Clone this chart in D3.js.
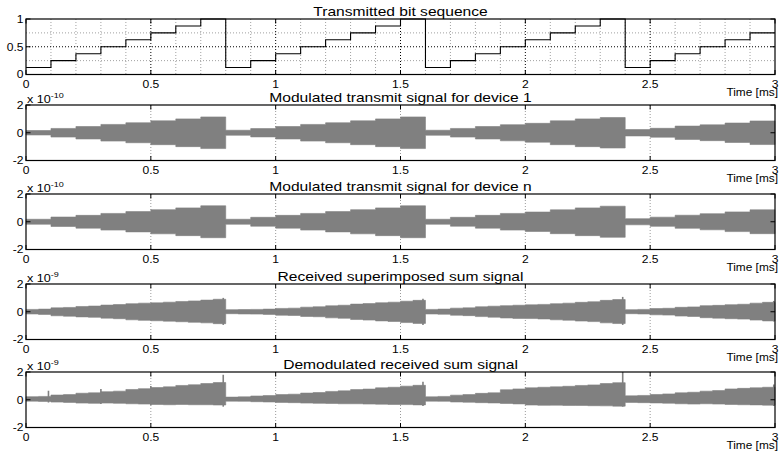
<!DOCTYPE html>
<html><head><meta charset="utf-8">
<script src="https://cdn.jsdelivr.net/npm/d3@7"></script>
<style>
body{margin:0;background:#fff}
svg{display:block}
text{font-family:"Liberation Sans",Arial,Helvetica,sans-serif;fill:#000}
</style>
</head><body>
<svg id="chart" width="782" height="452"></svg>
<script>
// ---------------- DATA ----------------
const titles = ["Transmitted bit sequence","Modulated transmit signal for device 1","Modulated transmit signal for device n","Received superimposed sum signal","Demodulated received sum signal"];
const xTicks = [0,0.5,1,1.5,2,2.5,3];
const xTickLabels = ["0","0.5","1","1.5","2","2.5","3"];
const xLabel = "Time [ms]";
const bitYTicks = [0,0.5,1];
const bitYTickLabels = ["0","0.5","1"];
const sigYTicks = [-2,0,2];
const sigYTickLabels = ["-2","0","2"];
const exponents = [null,"-10","-10","-9","-9"];

// segment start times (0.1 ms bits)
const segTimes = [0,0.1,0.2,0.3,0.4,0.5,0.6,0.7,0.8,0.9,1.0,1.1,1.2,1.3,1.4,1.5,1.6,1.7,1.8,1.9,2.0,2.1,2.2,2.3,2.4,2.5,2.6,2.7,2.8,2.9,3.0];
// transmitted bit levels per segment
const bitLevels = [0.125,0.25,0.375,0.5,0.625,0.75,0.875,1, 0.125,0.25,0.375,0.5,0.625,0.75,0.875,1, 0.125,0.25,0.375,0.5,0.625,0.75,0.875,1, 0.125,0.25,0.375,0.5,0.625,0.75];
// modulated signal envelope amplitude (x 1e-10)
const dev1Amp = [0.16,0.31,0.45,0.6,0.72,0.86,1.0,1.14, 0.18,0.3,0.45,0.6,0.72,0.86,1.0,1.14, 0.18,0.31,0.45,0.58,0.68,0.86,1.0,1.1, 0.23,0.32,0.48,0.57,0.7,0.85];
const devNAmp = [0.18,0.34,0.46,0.6,0.73,0.87,1.0,1.15, 0.18,0.32,0.46,0.6,0.73,0.87,1.0,1.15, 0.18,0.32,0.46,0.6,0.7,0.86,1.0,1.12, 0.22,0.33,0.47,0.58,0.71,0.86];

// finer time grid (0.05 ms) for the received signals
const halfTimes = [0,0.05,0.1,0.15,0.2,0.25,0.3,0.35,0.4,0.45,0.5,0.55,0.6,0.65,0.7,0.75,0.8,0.85,0.9,0.95,1.0,1.05,1.1,1.15,1.2,1.25,1.3,1.35,1.4,1.45,1.5,1.55,1.6,1.65,1.7,1.75,1.8,1.85,1.9,1.95,2.0,2.05,2.1,2.15,2.2,2.25,2.3,2.35,2.4,2.45,2.5,2.55,2.6,2.65,2.7,2.75,2.8,2.85,2.9,2.95,3.0];
// received sum signal envelope (x 1e-9): upper and lower magnitudes
const rxUpper = [0.17,0.19,0.28,0.31,0.38,0.41,0.48,0.52,0.58,0.62,0.64,0.69,0.74,0.78,0.84,0.9,
                 0.15,0.16,0.17,0.19,0.24,0.26,0.33,0.36,0.43,0.47,0.55,0.59,0.65,0.69,0.76,0.82,
                 0.17,0.19,0.26,0.28,0.36,0.4,0.44,0.47,0.5,0.53,0.58,0.62,0.68,0.72,0.82,0.88,
                 0.15,0.17,0.23,0.25,0.32,0.35,0.44,0.46,0.51,0.54,0.62,0.68];
const rxLower = [0.16,0.19,0.29,0.32,0.37,0.4,0.46,0.5,0.58,0.62,0.65,0.68,0.72,0.76,0.8,0.86,
                 0.14,0.16,0.17,0.19,0.25,0.27,0.34,0.36,0.44,0.47,0.56,0.6,0.66,0.7,0.78,0.84,
                 0.16,0.18,0.25,0.28,0.35,0.39,0.45,0.48,0.49,0.52,0.58,0.61,0.67,0.71,0.8,0.85,
                 0.14,0.16,0.22,0.24,0.31,0.34,0.43,0.46,0.5,0.53,0.6,0.66];
const rxSpikeT = [0.79,1.59,2.39,2.995];
const rxSpikeTop = [1.0,0.93,1.07,0.78];
const rxSpikeBot = [-0.95,-0.95,-0.95,-0.7];
// demodulated sum signal envelope (x 1e-9)
const dmUpper = [0.22,0.24,0.34,0.37,0.47,0.5,0.58,0.62,0.74,0.8,0.88,0.93,1.03,1.08,1.17,1.24,
                 0.19,0.21,0.27,0.3,0.37,0.4,0.48,0.52,0.6,0.64,0.73,0.77,0.86,0.9,0.98,1.04,
                 0.21,0.24,0.33,0.37,0.46,0.5,0.72,0.78,0.86,0.9,0.93,0.97,1.03,1.07,1.17,1.23,
                 0.28,0.31,0.38,0.42,0.5,0.54,0.62,0.66,0.78,0.82,0.86,0.9];
const dmLower = [0.1,0.12,0.17,0.19,0.24,0.26,0.24,0.26,0.29,0.31,0.34,0.36,0.34,0.36,0.36,0.38,
                 0.1,0.11,0.14,0.16,0.19,0.21,0.24,0.26,0.27,0.29,0.29,0.31,0.32,0.34,0.35,0.37,
                 0.1,0.11,0.16,0.18,0.21,0.23,0.27,0.3,0.38,0.4,0.39,0.41,0.41,0.43,0.44,0.46,
                 0.19,0.21,0.23,0.25,0.29,0.31,0.29,0.31,0.34,0.36,0.37,0.39];
const dmSpikeT = [0.09,0.3,0.5,0.79,1.59,2.39,2.995];
const dmSpikeTop = [0.65,0.77,1.0,1.8,1.3,2.0,1.1];
const dmSpikeBot = [-0.2,-0.3,-0.4,-0.5,-0.45,-0.5,-0.45];

// ---------------- LAYOUT ----------------
const svg = d3.select("#chart");
const L = 26, R = 775, H = 55.5;
const tops = [19,105,194,284,372];
const x = d3.scaleLinear().domain([0,3]).range([L,R]);
const GRAY = "#808080";

function label(g, px, py, str, size, anchor, sx, dy) {
  const t = g.append("text")
    .attr("transform", `translate(${px},${py}) scale(${sx},1)`)
    .attr("font-size", size)
    .attr("text-anchor", anchor)
    .text(str);
  if (dy) t.attr("dy", dy);
  return t;
}

function envelopeData(times, upper, lower) {
  const d = upper.map((u,i) => ({t: times[i], hi: u, lo: -lower[i]}));
  const last = d[d.length-1];
  d.push({t: times[upper.length], hi: last.hi, lo: last.lo});
  return d;
}

tops.forEach((top, p) => {
  const g = svg.append("g");
  const bottom = top + H;
  const isBit = p === 0;
  const y = d3.scaleLinear().domain(isBit ? [0,1] : [-2,2]).range([bottom, top]);

  // grid
  const grid = g.append("g");
  if (isBit) {
    const minorX = segTimes.filter(t => t > 0 && t < 3 && Math.abs(t*2 - Math.round(t*2)) > 1e-6);
    grid.selectAll(".mx").data(minorX).join("line")
      .attr("x1", d => x(d)).attr("x2", d => x(d)).attr("y1", top).attr("y2", bottom)
      .attr("stroke", "#a0a0a0").attr("stroke-width", 1).attr("stroke-dasharray", "1,2");
    grid.selectAll(".my").data([0.25,0.75]).join("line")
      .attr("x1", L).attr("x2", R).attr("y1", d => y(d)).attr("y2", d => y(d))
      .attr("stroke", "#a0a0a0").attr("stroke-width", 1).attr("stroke-dasharray", "1,2");
    grid.selectAll(".gx").data(xTicks.slice(1,-1)).join("line")
      .attr("x1", d => x(d)).attr("x2", d => x(d)).attr("y1", top).attr("y2", bottom)
      .attr("stroke", "#000").attr("stroke-width", 1).attr("stroke-dasharray", "1,2");
    grid.selectAll(".gy").data([0.5]).join("line")
      .attr("x1", L).attr("x2", R).attr("y1", d => y(d)).attr("y2", d => y(d))
      .attr("stroke", "#000").attr("stroke-width", 1).attr("stroke-dasharray", "1,2");
  } else {
    grid.selectAll(".gx").data(xTicks.slice(1,-1)).join("line")
      .attr("x1", d => x(d)).attr("x2", d => x(d)).attr("y1", top).attr("y2", bottom)
      .attr("stroke", "#9a9a9a").attr("stroke-width", 1).attr("stroke-dasharray", "1,2");
    grid.selectAll(".gy").data([0]).join("line")
      .attr("x1", L).attr("x2", R).attr("y1", d => y(d)).attr("y2", d => y(d))
      .attr("stroke", "#9a9a9a").attr("stroke-width", 1).attr("stroke-dasharray", "1,2");
  }

  // data
  if (isBit) {
    const d = bitLevels.map((v,i) => ({t: segTimes[i], v}));
    d.push({t: 3, v: bitLevels[bitLevels.length-1]});
    g.append("path").datum(d)
      .attr("d", d3.line().x(e => x(e.t)).y(e => y(e.v)).curve(d3.curveStepAfter))
      .attr("fill", "none").attr("stroke", "#000").attr("stroke-width", 1.1);
  } else {
    let data, sT = [], sTop = [], sBot = [];
    if (p === 1) data = envelopeData(segTimes, dev1Amp, dev1Amp);
    if (p === 2) data = envelopeData(segTimes, devNAmp, devNAmp);
    if (p === 3) { data = envelopeData(halfTimes, rxUpper, rxLower); sT = rxSpikeT; sTop = rxSpikeTop; sBot = rxSpikeBot; }
    if (p === 4) { data = envelopeData(halfTimes, dmUpper, dmLower); sT = dmSpikeT; sTop = dmSpikeTop; sBot = dmSpikeBot; }
    g.append("path").datum(data)
      .attr("d", d3.area().x(e => x(e.t)).y0(e => y(e.lo)).y1(e => y(e.hi)).curve(d3.curveStepAfter))
      .attr("fill", GRAY).attr("stroke", GRAY).attr("stroke-width", 0.6);
    g.selectAll(".spike").data(sT).join("line")
      .attr("x1", d => x(d)).attr("x2", d => x(d))
      .attr("y1", (d,i) => y(sBot[i])).attr("y2", (d,i) => y(sTop[i]))
      .attr("stroke", GRAY).attr("stroke-width", 1.6);
  }

  // ticks (inside, top & bottom, left & right)
  const tl = 4.5;
  const yT = isBit ? bitYTicks : sigYTicks;
  const yTL = isBit ? bitYTickLabels : sigYTickLabels;
  g.selectAll(".tb").data(xTicks).join("line")
    .attr("x1", d => x(d)).attr("x2", d => x(d)).attr("y1", bottom).attr("y2", bottom - tl)
    .attr("stroke", "#000").attr("stroke-width", 1);
  g.selectAll(".tt").data(xTicks).join("line")
    .attr("x1", d => x(d)).attr("x2", d => x(d)).attr("y1", top).attr("y2", top + tl)
    .attr("stroke", "#000").attr("stroke-width", 1);
  g.selectAll(".tlft").data(yT).join("line")
    .attr("x1", L).attr("x2", L + tl).attr("y1", d => y(d)).attr("y2", d => y(d))
    .attr("stroke", "#000").attr("stroke-width", 1);
  g.selectAll(".trt").data(yT).join("line")
    .attr("x1", R).attr("x2", R - tl).attr("y1", d => y(d)).attr("y2", d => y(d))
    .attr("stroke", "#000").attr("stroke-width", 1);

  // frame
  g.append("rect").attr("x", L).attr("y", top).attr("width", R - L).attr("height", H)
    .attr("fill", "none").attr("stroke", "#000").attr("stroke-width", 1.2);

  // tick labels
  xTicks.forEach((t, i) => label(g, x(t), bottom + 13.5, xTickLabels[i], 10.5, "middle", 1.15));
  yT.forEach((t, i) => label(g, 23.5, y(t), yTL[i], 10.5, "end", 1.15, "0.36em"));
  label(g, 778, bottom + 21, xLabel, 10.5, "end", 1.13);

  // title
  label(g, (L + R) / 2, top - 3.5, titles[p], 13, "middle", 1.2);

  // exponent
  if (exponents[p]) {
    const t = g.append("text")
      .attr("transform", `translate(27,${top - 2.5}) scale(1.2,1)`)
      .attr("font-size", 10.5);
    t.append("tspan").text("x 10");
    t.append("tspan").attr("font-size", 7.5).attr("dy", -4.5).text(exponents[p]);
  }
});
</script>
</body></html>
